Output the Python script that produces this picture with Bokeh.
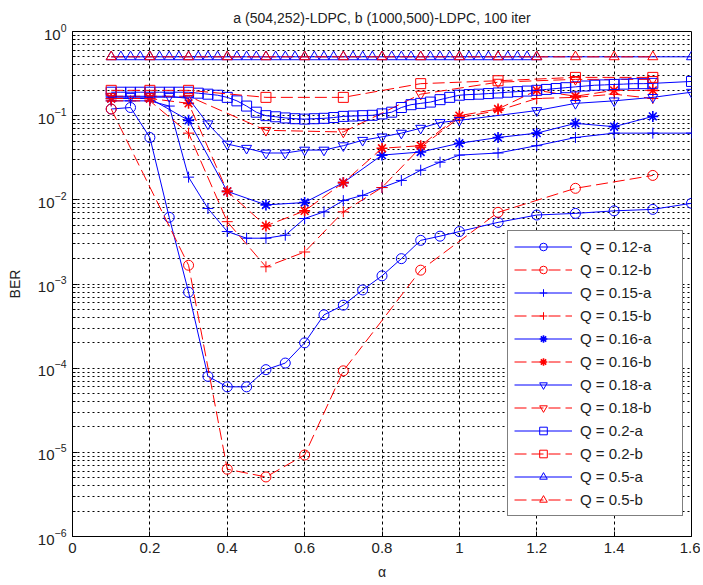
from bokeh.plotting import figure
from bokeh.models import (FixedTicker, Legend, LegendItem, NumeralTickFormatter, Range1d)
from bokeh.embed import file_html
from bokeh.resources import INLINE

# ---------------- data ----------------
q012a_x = [0.10, 0.15, 0.20, 0.25, 0.30, 0.35, 0.40, 0.45, 0.50, 0.55, 0.60, 0.65, 0.70,
           0.75, 0.80, 0.85, 0.90, 0.95, 1.0, 1.1, 1.2, 1.3, 1.4, 1.5, 1.6]
q012a_y = [0.12, 0.125, 0.055, 0.0062, 0.0008, 0.00008, 0.00006, 0.00006, 0.000096, 0.000115,
           0.0002, 0.00043, 0.00056, 0.00085, 0.00125, 0.002, 0.0033, 0.0037, 0.0042, 0.0054,
           0.0066, 0.0069, 0.0074, 0.0077, 0.0091]

q012b_x = [0.1, 0.3, 0.4, 0.5, 0.6, 0.7, 0.9, 1.1, 1.3, 1.5]
q012b_y = [0.12, 0.00167, 0.0000063, 0.0000051, 0.0000093, 0.000093, 0.00146, 0.0071, 0.0137, 0.0195]

q015a_x = [0.10, 0.15, 0.20, 0.25, 0.30, 0.35, 0.40, 0.45, 0.50, 0.55, 0.60, 0.65, 0.70,
           0.75, 0.80, 0.85, 0.90, 0.95, 1.0, 1.1, 1.2, 1.3, 1.4, 1.5, 1.6]
q015a_y = [0.15, 0.15, 0.15, 0.13, 0.0186, 0.0079, 0.0042, 0.0035, 0.0035, 0.0038, 0.006,
           0.0072, 0.0098, 0.0113, 0.014, 0.017, 0.0225, 0.028, 0.034, 0.036, 0.044, 0.055,
           0.062, 0.062, 0.062]

q015b_x = [0.1, 0.2, 0.3, 0.4, 0.5, 0.6, 0.7, 0.8, 0.9, 1.0, 1.1, 1.2, 1.3, 1.4, 1.5]
q015b_y = [0.15, 0.15, 0.062, 0.0055, 0.0016, 0.0024, 0.0072, 0.014, 0.042, 0.095, 0.115,
           0.16, 0.165, 0.18, 0.16]

q016a_x = [0.1, 0.2, 0.3, 0.4, 0.5, 0.6, 0.7, 0.8, 0.9, 1.0, 1.1, 1.2, 1.3, 1.4, 1.5]
q016a_y = [0.16, 0.16, 0.088, 0.0126, 0.0087, 0.0093, 0.016, 0.034, 0.037, 0.047, 0.055,
           0.062, 0.081, 0.074, 0.098]

q016b_x = [0.1, 0.2, 0.3, 0.4, 0.5, 0.6, 0.7, 0.8, 0.9, 1.0, 1.1, 1.2, 1.3, 1.4, 1.5]
q016b_y = [0.16, 0.16, 0.14, 0.0126, 0.0049, 0.0074, 0.016, 0.041, 0.044, 0.1, 0.12,
           0.2, 0.17, 0.2, 0.2]

q018a_x = [0.10, 0.15, 0.20, 0.25, 0.30, 0.35, 0.40, 0.45, 0.50, 0.55, 0.60, 0.65, 0.70,
           0.75, 0.80, 0.85, 0.90, 0.95, 1.0, 1.2, 1.3, 1.4, 1.5, 1.6]
q018a_y = [0.17, 0.17, 0.17, 0.17, 0.16, 0.08, 0.046, 0.041, 0.036, 0.036, 0.039, 0.039,
           0.044, 0.051, 0.056, 0.062, 0.071, 0.083, 0.088, 0.115, 0.14, 0.15, 0.165, 0.19]

q018b_x = [0.1, 0.2, 0.3, 0.5, 0.7, 0.9, 1.1, 1.3, 1.5]
q018b_y = [0.17, 0.17, 0.17, 0.067, 0.064, 0.18, 0.25, 0.27, 0.27]

q02a_x = [0.100, 0.125, 0.150, 0.175, 0.200, 0.225, 0.250, 0.275, 0.300, 0.325, 0.350, 0.375,
          0.400, 0.425, 0.450, 0.475, 0.500, 0.525, 0.550, 0.575, 0.600, 0.625, 0.650, 0.675,
          0.700, 0.725, 0.750, 0.775, 0.800, 0.825, 0.850, 0.875, 0.900, 0.925, 0.950, 0.975,
          1.000, 1.025, 1.050, 1.075, 1.100, 1.125, 1.150, 1.175, 1.200, 1.225, 1.250, 1.275,
          1.300, 1.325, 1.350, 1.375, 1.400, 1.425, 1.450, 1.475, 1.500, 1.600]
q02a_y = [0.19, 0.19, 0.19, 0.19, 0.19, 0.19, 0.19, 0.19, 0.19, 0.185, 0.18, 0.175,
          0.165, 0.15, 0.13, 0.11, 0.10, 0.097, 0.094, 0.092, 0.091, 0.092, 0.093, 0.095,
          0.098, 0.099, 0.10, 0.101, 0.105, 0.11, 0.125, 0.135, 0.14, 0.145, 0.155, 0.165,
          0.175, 0.178, 0.18, 0.183, 0.186, 0.19, 0.193, 0.196, 0.20, 0.205, 0.21, 0.215,
          0.22, 0.225, 0.23, 0.232, 0.235, 0.237, 0.24, 0.24, 0.242, 0.255]

q02b_x = [0.1, 0.2, 0.3, 0.5, 0.7, 0.9, 1.1, 1.3, 1.5]
q02b_y = [0.2, 0.2, 0.2, 0.165, 0.165, 0.24, 0.26, 0.285, 0.285]

q05a_x = [0.100, 0.125, 0.150, 0.175, 0.200, 0.225, 0.250, 0.275, 0.300, 0.325, 0.350, 0.375,
          0.400, 0.425, 0.450, 0.475, 0.500, 0.525, 0.550, 0.575, 0.600, 0.625, 0.650, 0.675,
          0.700, 0.725, 0.750, 0.775, 0.800, 0.825, 0.850, 0.875, 0.900, 0.925, 0.950, 0.975,
          1.000, 1.025, 1.050, 1.075, 1.100, 1.125, 1.150, 1.175, 1.200, 1.600]
q05a_y = [0.5, 0.5, 0.5, 0.5, 0.5, 0.5, 0.5, 0.5, 0.5, 0.5, 0.5, 0.5,
          0.5, 0.5, 0.5, 0.5, 0.5, 0.5, 0.5, 0.5, 0.5, 0.5, 0.5, 0.5,
          0.5, 0.5, 0.5, 0.5, 0.5, 0.5, 0.5, 0.5, 0.5, 0.5, 0.5, 0.5,
          0.5, 0.5, 0.5, 0.5, 0.5, 0.5, 0.5, 0.5, 0.5, 0.5]

q05b_x = [0.1, 0.2, 0.3, 0.4, 0.5, 0.6, 0.7, 0.8, 0.9, 1.0, 1.1, 1.2, 1.3, 1.4, 1.5]
q05b_y = [0.5, 0.5, 0.5, 0.5, 0.5, 0.5, 0.5, 0.5, 0.5, 0.5, 0.5, 0.5, 0.5, 0.5, 0.5]

x_ticks = [0, 0.2, 0.4, 0.6, 0.8, 1.0, 1.2, 1.4, 1.6]
y_ticks = [1e-6, 1e-5, 1e-4, 1e-3, 1e-2, 1e-1, 1]
y_minor = [m * 10.0 ** e for e in range(-6, 0) for m in range(2, 10)]

series = [
    ("Q = 0.12-a", q012a_x, q012a_y, "blue", "circle"),
    ("Q = 0.12-b", q012b_x, q012b_y, "red", "circle"),
    ("Q = 0.15-a", q015a_x, q015a_y, "blue", "cross"),
    ("Q = 0.15-b", q015b_x, q015b_y, "red", "cross"),
    ("Q = 0.16-a", q016a_x, q016a_y, "blue", "asterisk"),
    ("Q = 0.16-b", q016b_x, q016b_y, "red", "asterisk"),
    ("Q = 0.18-a", q018a_x, q018a_y, "blue", "inverted_triangle"),
    ("Q = 0.18-b", q018b_x, q018b_y, "red", "inverted_triangle"),
    ("Q = 0.2-a", q02a_x, q02a_y, "blue", "square"),
    ("Q = 0.2-b", q02b_x, q02b_y, "red", "square"),
    ("Q = 0.5-a", q05a_x, q05a_y, "blue", "triangle"),
    ("Q = 0.5-b", q05b_x, q05b_y, "red", "triangle"),
]

FONT = "Liberation Sans"

p = figure(width=700, height=582, x_range=Range1d(0, 1.6), y_range=Range1d(1e-6, 1),
           y_axis_type="log", output_backend="svg", toolbar_location=None,
           min_border_left=72, min_border_right=9, min_border_top=31, min_border_bottom=45,
           background_fill_color="white", border_fill_color="white")

p.title.text = "a (504,252)-LDPC, b (1000,500)-LDPC, 100 iter"
p.title.align = "center"
p.title.text_font = FONT
p.title.text_font_size = "14px"
p.title.text_font_style = "normal"
p.title.text_color = "#222222"
p.title.standoff = 11
p.outline_line_color = "black"
p.outline_line_alpha = 1

x_ticker = FixedTicker(ticks=x_ticks)
y_ticker = FixedTicker(ticks=y_ticks, minor_ticks=y_minor)

p.xaxis.ticker = x_ticker
p.xaxis.formatter = NumeralTickFormatter(format="0.[0]")
p.yaxis.ticker = y_ticker
for ax in (p.xaxis[0], p.yaxis[0]):
    ax.major_tick_in = 5
    ax.major_tick_out = 0
    ax.minor_tick_in = 3
    ax.minor_tick_out = 0
    ax.axis_line_color = "black"
    ax.major_tick_line_color = "black"
    ax.minor_tick_line_color = "black"
    ax.major_label_text_font = FONT
    ax.major_label_text_font_size = "15px"
    ax.major_label_text_color = "#222222"
    ax.axis_label_text_font = FONT
    ax.axis_label_text_font_size = "14px"
    ax.axis_label_text_font_style = "normal"
    ax.axis_label_text_color = "#222222"
p.xaxis.axis_label = "α"
p.yaxis.axis_label = "BER"
p.xaxis.major_label_standoff = 6
p.yaxis.major_label_standoff = 6
p.xaxis.axis_label_standoff = 8
p.yaxis.axis_label_standoff = 12

p.xgrid.ticker = x_ticker
p.xgrid.grid_line_color = "black"
p.xgrid.grid_line_dash = "3 3"
p.xgrid.grid_line_width = 1
p.ygrid.ticker = y_ticker
p.ygrid.grid_line_color = "black"
p.ygrid.grid_line_dash = "2 3"
p.ygrid.minor_grid_line_color = "black"
p.ygrid.minor_grid_line_dash = "2 3"

items = []
for label, xs, ys, color, marker in series:
    dash = "solid" if color == "blue" else "12 5"
    ln = p.line(xs, ys, line_color=color, line_width=1, line_dash=dash)
    size = 11 if marker in ("cross", "asterisk") else 10
    lw = 1.6 if marker == "asterisk" else 1
    sc = p.scatter(xs, ys, marker=marker, size=size, line_color=color, fill_color=None,
                   line_width=lw)
    items.append(LegendItem(label=label, renderers=[ln, sc]))

legend = Legend(items=items, location=(435, 20), margin=0, padding=6, spacing=4,
                label_height=19, glyph_height=19, glyph_width=58, label_standoff=8,
                label_width=96,
                border_line_color="black", border_line_width=1,
                background_fill_color="white", background_fill_alpha=1,
                label_text_font=FONT, label_text_font_size="15px",
                label_text_color="#222222")
p.add_layout(legend)

open("out.html", "w").write(file_html(p, INLINE))
